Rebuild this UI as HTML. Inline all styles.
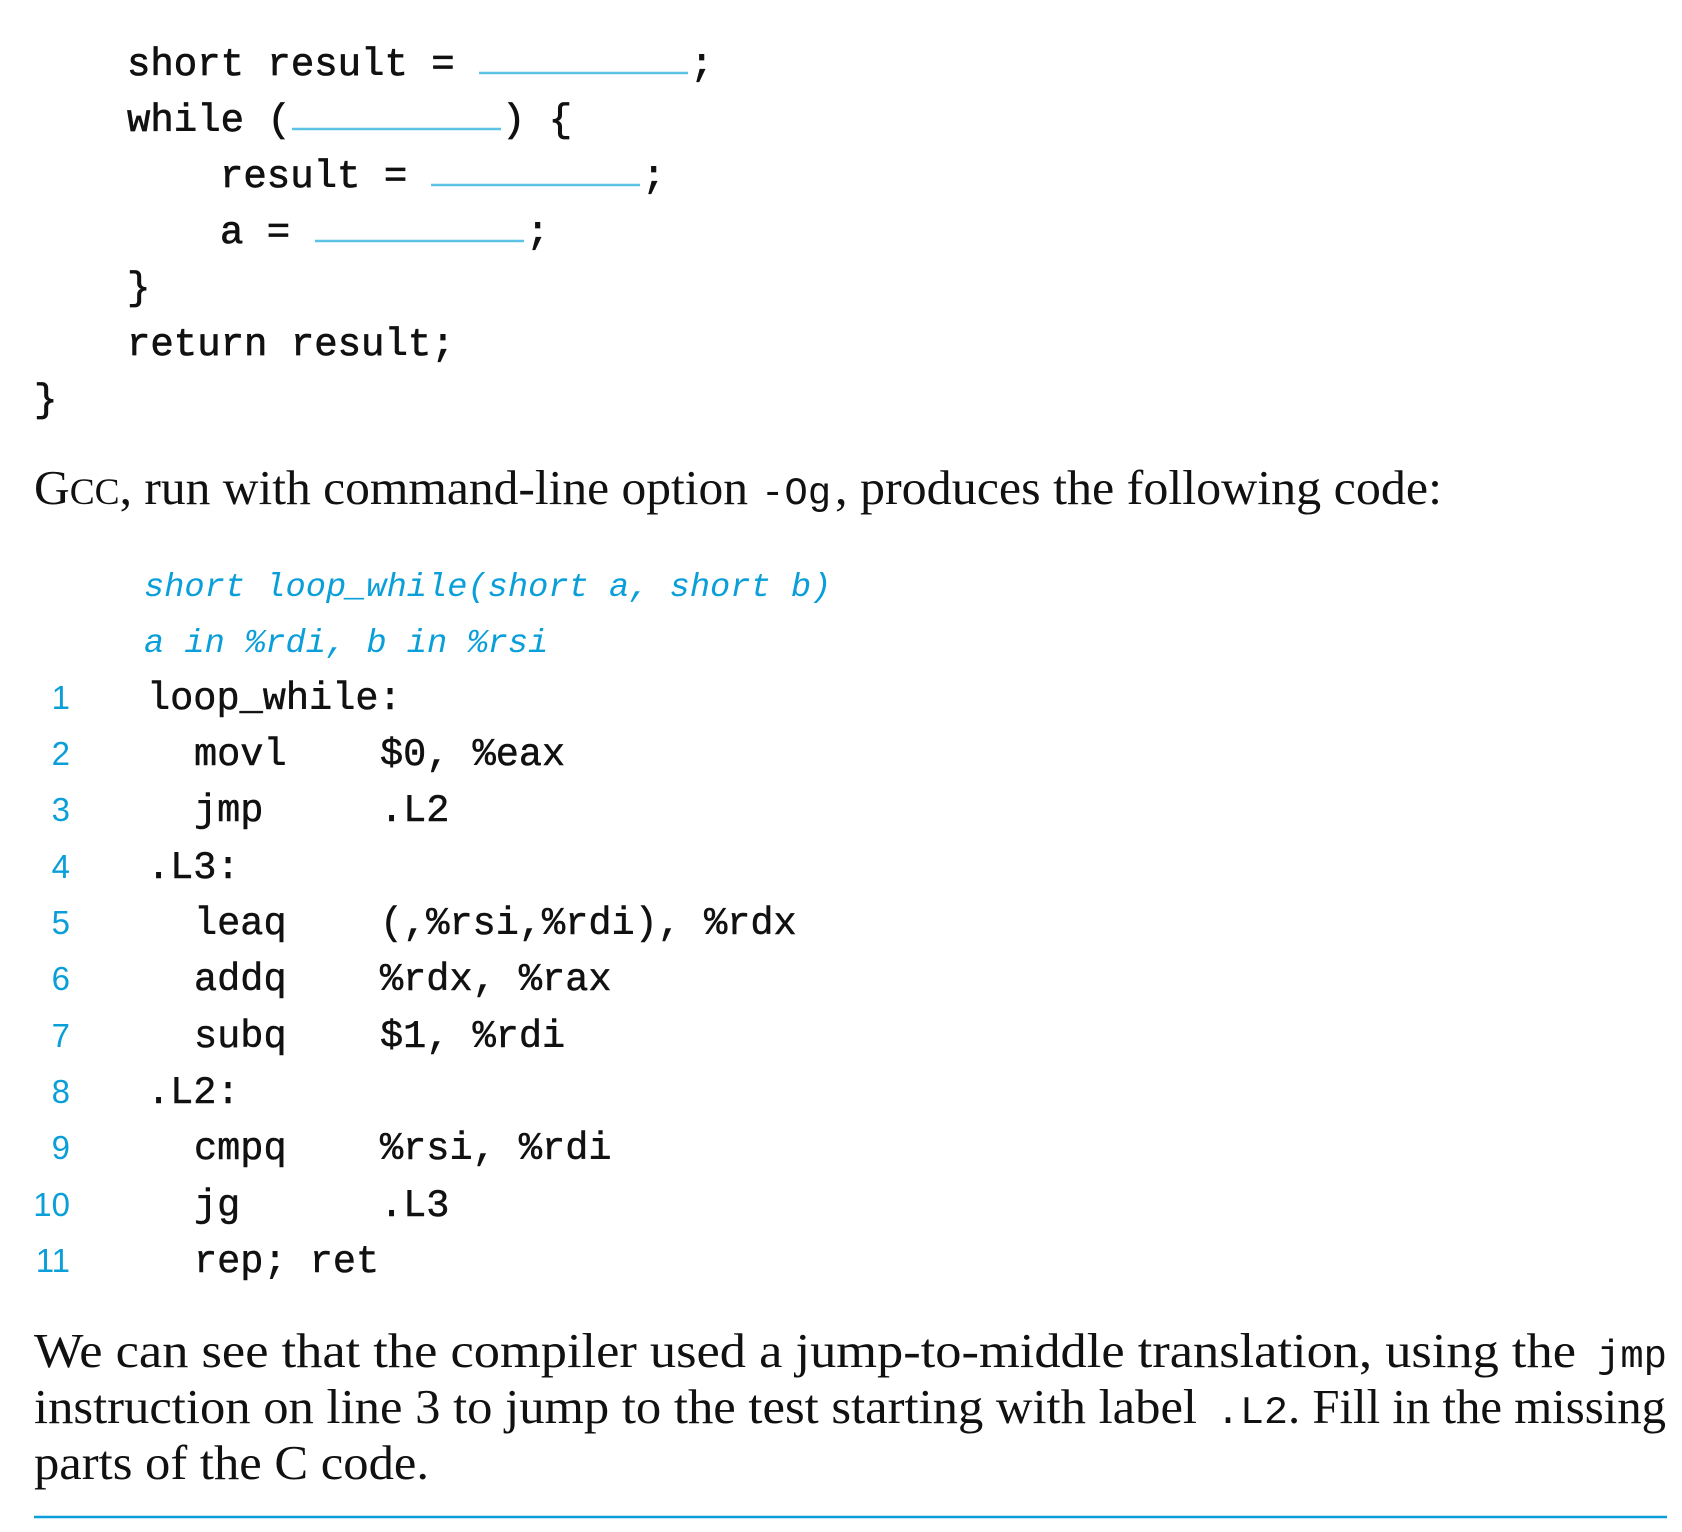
<!DOCTYPE html>
<html><head><meta charset="utf-8"><style>
html,body{margin:0;padding:0;background:#fff;}
svg{display:block}
.m{font-family:"Liberation Mono",monospace;fill:#111;}
.s{font-family:"Liberation Serif",serif;fill:#111;font-size:49px;}
.b{font-family:"Liberation Mono",monospace;fill:#0a9fd8;font-style:italic;font-size:33.7px;}
.n{font-family:"Liberation Sans",sans-serif;fill:#0a9fd8;font-size:33px;}
</style></head><body>
<svg width="1682" height="1532" viewBox="0 0 1682 1532" xmlns="http://www.w3.org/2000/svg">
<g class="m" font-size="39" stroke="#111" stroke-width="0.7">
<text x="127" y="75">short result = </text><text x="690" y="75">;</text>
<text x="127" y="131">while (</text><text x="502" y="131">) {</text>
<text x="220" y="187">result = </text><text x="642" y="187">;</text>
<text x="220" y="243">a = </text><text x="526" y="243">;</text>
<text x="127" y="299">}</text>
<text x="127" y="355">return result;</text>
<text x="34" y="411">}</text>
</g>
<g stroke="#5cc3e6" stroke-width="2.5">
<line x1="479" y1="73" x2="688" y2="73"/>
<line x1="292" y1="129" x2="501" y2="129"/>
<line x1="431" y1="185" x2="640" y2="185"/>
<line x1="315" y1="241" x2="524" y2="241"/>
</g>
<text class="s" x="34" y="504" textLength="714" lengthAdjust="spacingAndGlyphs"><tspan>G</tspan><tspan font-size="37">CC</tspan><tspan>, run with command-line option </tspan></text>
<text class="m" font-size="39" x="761" y="504">-Og</text>
<text class="s" x="835" y="504" textLength="607" lengthAdjust="spacingAndGlyphs">, produces the following code:</text>
<text class="b" x="144" y="596">short loop_while(short a, short b)</text>
<text class="b" x="144" y="652">a in %rdi, b in %rsi</text>
<g class="n" text-anchor="end">
<text x="70" y="709">1</text><text x="70" y="765">2</text><text x="70" y="821">3</text><text x="70" y="878">4</text>
<text x="70" y="934">5</text><text x="70" y="990">6</text><text x="70" y="1047">7</text><text x="70" y="1103">8</text>
<text x="70" y="1159">9</text><text x="70" y="1216">10</text><text x="70" y="1272">11</text>
</g>
<g class="m" font-size="38.6" stroke="#111" stroke-width="0.5">
<text x="147" y="709">loop_while:</text>
<text x="194" y="765">movl</text><text x="380" y="765">$0, %eax</text>
<text x="194" y="821">jmp</text><text x="380" y="821">.L2</text>
<text x="147" y="878">.L3:</text>
<text x="194" y="934">leaq</text><text x="380" y="934">(,%rsi,%rdi), %rdx</text>
<text x="194" y="990">addq</text><text x="380" y="990">%rdx, %rax</text>
<text x="194" y="1047">subq</text><text x="380" y="1047">$1, %rdi</text>
<text x="147" y="1103">.L2:</text>
<text x="194" y="1159">cmpq</text><text x="380" y="1159">%rsi, %rdi</text>
<text x="194" y="1216">jg</text><text x="380" y="1216">.L3</text>
<text x="194" y="1272">rep; ret</text>
</g>
<text class="s" x="34" y="1367" textLength="1542" lengthAdjust="spacingAndGlyphs">We can see that the compiler used a jump-to-middle translation, using the</text>
<text class="m" font-size="39" x="1597" y="1367" textLength="70" lengthAdjust="spacingAndGlyphs">jmp</text>
<text class="s" x="34" y="1423" textLength="1163" lengthAdjust="spacingAndGlyphs">instruction on line 3 to jump to the test starting with label</text>
<text class="m" font-size="39" x="1216" y="1423" textLength="72" lengthAdjust="spacingAndGlyphs">.L2</text>
<text class="s" x="1288" y="1423" textLength="378" lengthAdjust="spacingAndGlyphs">. Fill in the missing</text>
<text class="s" x="34" y="1479" textLength="395" lengthAdjust="spacingAndGlyphs">parts of the C code.</text>
<line x1="34" y1="1517" x2="1667" y2="1517" stroke="#0a9fd8" stroke-width="2.5"/>
</svg>
</body></html>
